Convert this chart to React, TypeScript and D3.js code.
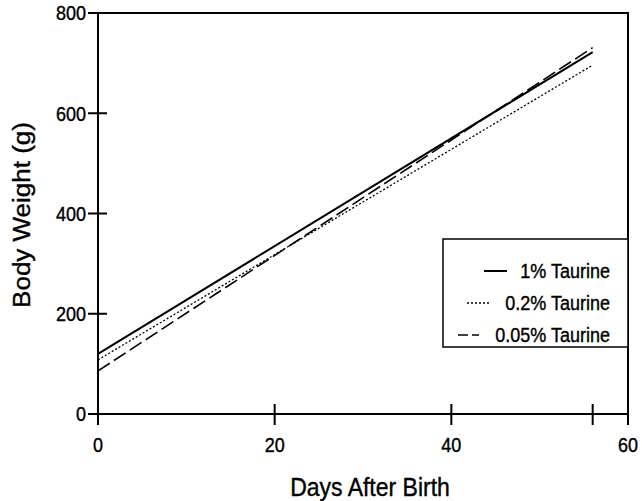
import React, { useEffect, useRef } from 'react';
import * as d3 from 'd3';

const days = [0, 56];
const taurine1 = [120, 722];
const taurine02 = [108, 696];
const taurine005 = [86, 731];
const seriesNames = ['1% Taurine', '0.2% Taurine', '0.05% Taurine'];
const xTicks = [0, 20, 40, 60];
const yTicks = [0, 200, 400, 600, 800];

const font = '"Liberation Sans", Arial, Helvetica, sans-serif';
// the scanned original is a bit taller than it is wide
const stretch = 1.13;

function App() {
    const svgRef = useRef<SVGSVGElement | null>(null);

    useEffect(() => {
        const svg = d3.select(svgRef.current);
        svg.selectAll('*').remove();

        const x = d3.scaleLinear().domain([0, 60]).range([98, 628]);
        const y = d3.scaleLinear().domain([0, 800]).range([414, 13]);

        const g = svg.append('g');

        const label = (px: number, py: number, txt: string, size: number, anchor: string, rotate = 0) => {
            g.append('g')
                .attr('transform', `translate(${px},${py}) scale(1,${stretch})${rotate ? ` rotate(${rotate})` : ''}`)
                .append('text')
                .attr('dy', '0.36em')
                .attr('text-anchor', anchor)
                .attr('fill', '#000')
                .attr('stroke', '#000')
                .attr('stroke-width', 0.35)
                .style('font-family', font)
                .style('font-size', `${size}px`)
                .text(txt);
        };

        // frame
        g.append('rect')
            .attr('x', x(0)).attr('y', y(800))
            .attr('width', x(60) - x(0)).attr('height', y(0) - y(800))
            .attr('fill', 'none').attr('stroke', '#000').attr('stroke-width', 2);

        // y ticks (crossing the axis)
        g.selectAll('.ytick').data(yTicks).enter().append('line')
            .attr('x1', x(0) - 10).attr('x2', x(0) + 9)
            .attr('y1', d => y(d)).attr('y2', d => y(d))
            .attr('stroke', '#000').attr('stroke-width', 2);
        yTicks.forEach(d => label(86, y(d), String(d), 18, 'end'));

        // x ticks, plus one at the last day
        const xTickPos = [...xTicks, days[1]];
        g.selectAll('.xtick').data(xTickPos).enter().append('line')
            .attr('x1', d => x(d)).attr('x2', d => x(d))
            .attr('y1', y(0) - 10).attr('y2', y(0) + 11)
            .attr('stroke', '#000').attr('stroke-width', 2);
        xTicks.forEach(d => label(x(d), 445, String(d), 18, 'middle'));

        // axis titles
        label(370, 487, 'Days After Birth', 23, 'middle');
        label(22, 215, 'Body Weight (g)', 23, 'middle', -90);

        const series = [
            { name: seriesNames[0], values: taurine1, dash: null, width: 2 },
            { name: seriesNames[1], values: taurine02, dash: '2,2', width: 1.3 },
            { name: seriesNames[2], values: taurine005, dash: '14,5', width: 1.6 },
        ];

        const line = d3.line<number>()
            .x((_, i) => x(days[i]))
            .y(d => y(d));

        series.forEach(s => {
            g.append('path')
                .attr('d', line(s.values))
                .attr('fill', 'none')
                .attr('stroke', '#000')
                .attr('stroke-width', s.width)
                .attr('stroke-dasharray', s.dash);
        });

        // legend
        g.append('rect')
            .attr('x', 443).attr('y', 239)
            .attr('width', 628 - 443).attr('height', 108)
            .attr('fill', '#fff').attr('stroke', '#000').attr('stroke-width', 1.5);

        const rowY = [271, 303, 335];
        const sampleStart = [484, 467, 458];
        const sampleEnd = [507, 489, 479];
        series.forEach((s, i) => {
            g.append('line')
                .attr('x1', sampleStart[i]).attr('x2', sampleEnd[i])
                .attr('y1', rowY[i]).attr('y2', rowY[i])
                .attr('stroke', '#000')
                .attr('stroke-width', s.width)
                .attr('stroke-dasharray', i === 2 ? '10,4,7,100' : s.dash);
            label(610, rowY[i], s.name, 18, 'end');
        });
    }, []);

    return (
        <svg ref={svgRef} width={642} height={501}
            style={{ position: 'absolute', left: 0, top: 0, background: '#fff' }} />
    );
}

export default App;
